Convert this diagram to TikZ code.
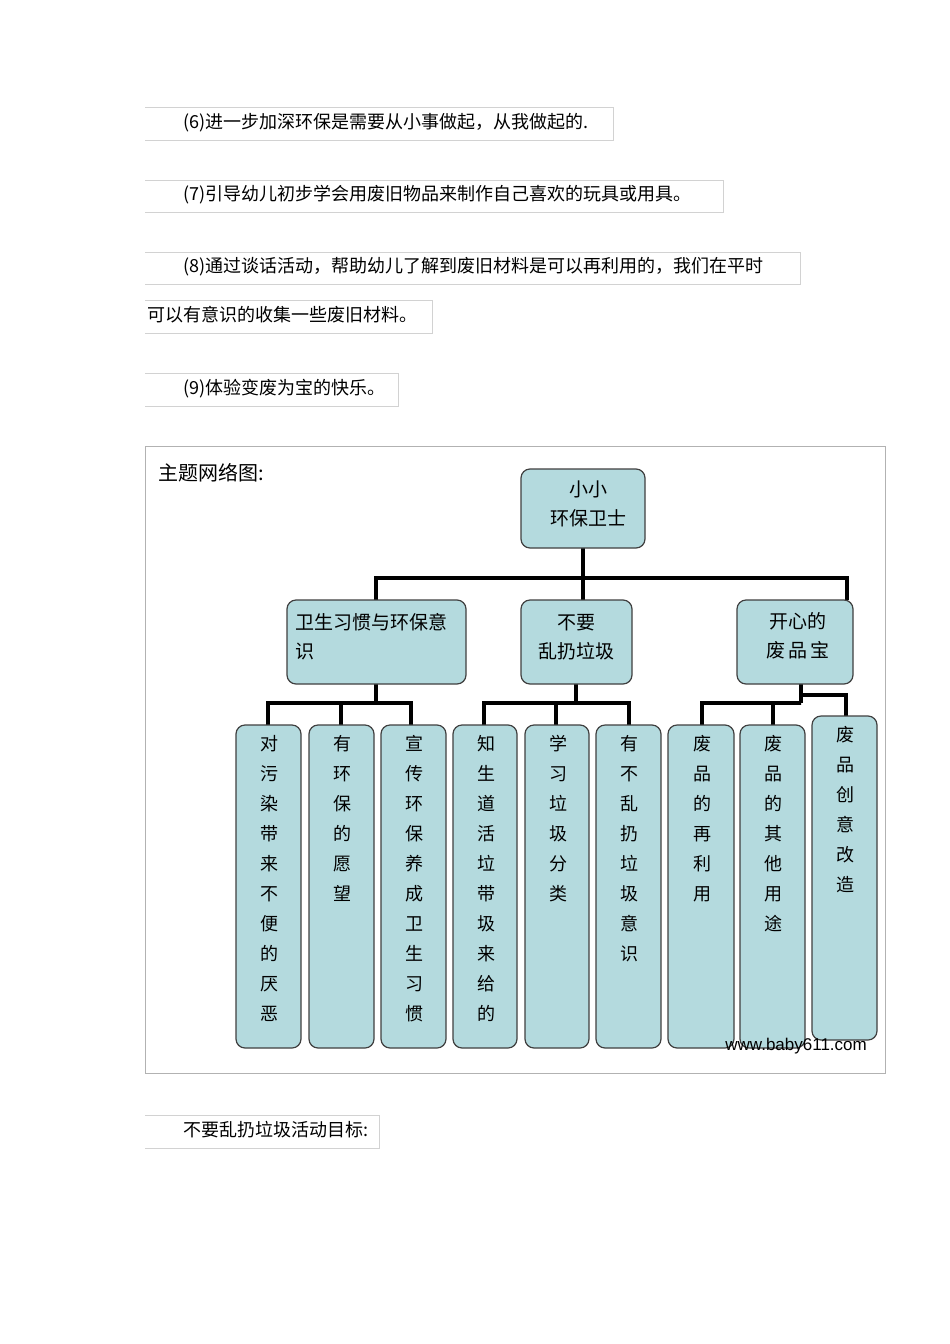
\documentclass[tikz,border=0pt]{standalone}
\usepackage{fontspec}
\setmainfont{Noto Sans CJK SC}
\newfontfamily\wm{Liberation Sans}
\begin{document}
\begin{tikzpicture}[x=1pt,y=-1pt,
  line/.style={draw=gray!35,line width=0.8pt},
  para/.style={anchor=base west,font=\fontsize{18}{18}\selectfont,inner sep=0},
  bx/.style={draw=black!75,fill=boxc,rounded corners=9pt,line width=1.2pt},
  conn/.style={line width=3.5pt},
  ch/.style={font=\fontsize{18}{30}\selectfont,align=center,anchor=north,inner sep=0}]
\definecolor{boxc}{RGB}{180,218,222}
\useasboundingbox[fill=white] (0,0) rectangle (950,1344);
% text lines
\foreach \x/\a/\b in {613/107/140,723/180/212,800/252/284,432/300/333,398/373/406,379/1115/1148}
  \draw[line] (145,\a) -- (\x,\a) -- (\x,\b) -- (145,\b);
\node[para] (p6) at (183,128) {(6)进一步加深环保是需要从小事做起，从我做起的.};
\node[para] (p7) at (183,200) {(7)引导幼儿初步学会用废旧物品来制作自己喜欢的玩具或用具。};
\node[para] (p8) at (183,272) {(8)通过谈话活动，帮助幼儿了解到废旧材料是可以再利用的，我们在平时};
\node[para] (p8b) at (147,321) {可以有意识的收集一些废旧材料。};
\node[para] (p9) at (183,394) {(9)体验变废为宝的快乐。};
\node[para] (pe) at (183,1136) {不要乱扔垃圾活动目标:};
% frame
\draw[draw=gray!60,line width=0.8pt] (145,446) rectangle (885,1073);
\node[anchor=base west,inner sep=0,font=\fontsize{20}{20}\selectfont] (title) at (158,480) {主题网络图:};
% connectors
\draw[conn] (583,548) -- (583,578);
\draw[conn] (376,600) -- (376,578) -- (847,578) -- (847,600);
\draw[conn] (583,578) -- (583,600);
\draw[conn] (376,684) -- (376,703);
\draw[conn] (268,725) -- (268,703) -- (411,703) -- (411,725);
\draw[conn] (341,703) -- (341,725);
\draw[conn] (576,684) -- (576,703);
\draw[conn] (484,725) -- (484,703) -- (629,703) -- (629,725);
\draw[conn] (556,703) -- (556,725);
\draw[conn] (801,684) -- (801,703);
\draw[conn] (702,725) -- (702,703) -- (801,703) -- (773,703) -- (773,725);
\draw[conn] (801,695) -- (846,695) -- (846,716);
% root and mid
\draw[bx] (521,469) rectangle (645,548);
\node[font=\fontsize{19}{29}\selectfont,align=center] (root) at (588,504) {小小\\环保卫士};
\draw[bx] (287,600) rectangle (466,684);
\node[font=\fontsize{19}{29}\selectfont,align=left,anchor=north west] (ma) at (292,610) {卫生习惯与环保意\\识};
\draw[bx] (521,600) rectangle (632,684);
\node[font=\fontsize{19}{29}\selectfont,align=center] (mb) at (576,637) {不要\\乱扔垃圾};
\draw[bx] (737,600) rectangle (853,684);
\node[font=\fontsize{19}{29}\selectfont,align=center,anchor=north] (mc) at (798,609) {开心的\\废\,品\,宝};
% leaves
\foreach \l/\r/\t/\b/\txt in {
 236/301/725/1048/{对\\污\\染\\带\\来\\不\\便\\的\\厌\\恶},
 309/374/725/1048/{有\\环\\保\\的\\愿\\望},
 381/446/725/1048/{宣\\传\\环\\保\\养\\成\\卫\\生\\习\\惯},
 453/517/725/1048/{知\\生\\道\\活\\垃\\带\\圾\\来\\给\\的},
 525/589/725/1048/{学\\习\\垃\\圾\\分\\类},
 596/661/725/1048/{有\\不\\乱\\扔\\垃\\圾\\意\\识},
 668/734/725/1048/{废\\品\\的\\再\\利\\用},
 740/805/725/1048/{废\\品\\的\\其\\他\\用\\途},
 812/877/716/1040/{废\\品\\创\\意\\改\\造}}
 {\draw[bx] (\l,\t) rectangle (\r,\b);
  \node[ch] at ({(\l+\r)/2+1},\t+10) {\txt};}
\node[anchor=base east,inner sep=0,font=\wm\fontsize{17}{17}\selectfont] (wm) at (867,1050) {www.baby611.com};
\end{tikzpicture}
\end{document}
